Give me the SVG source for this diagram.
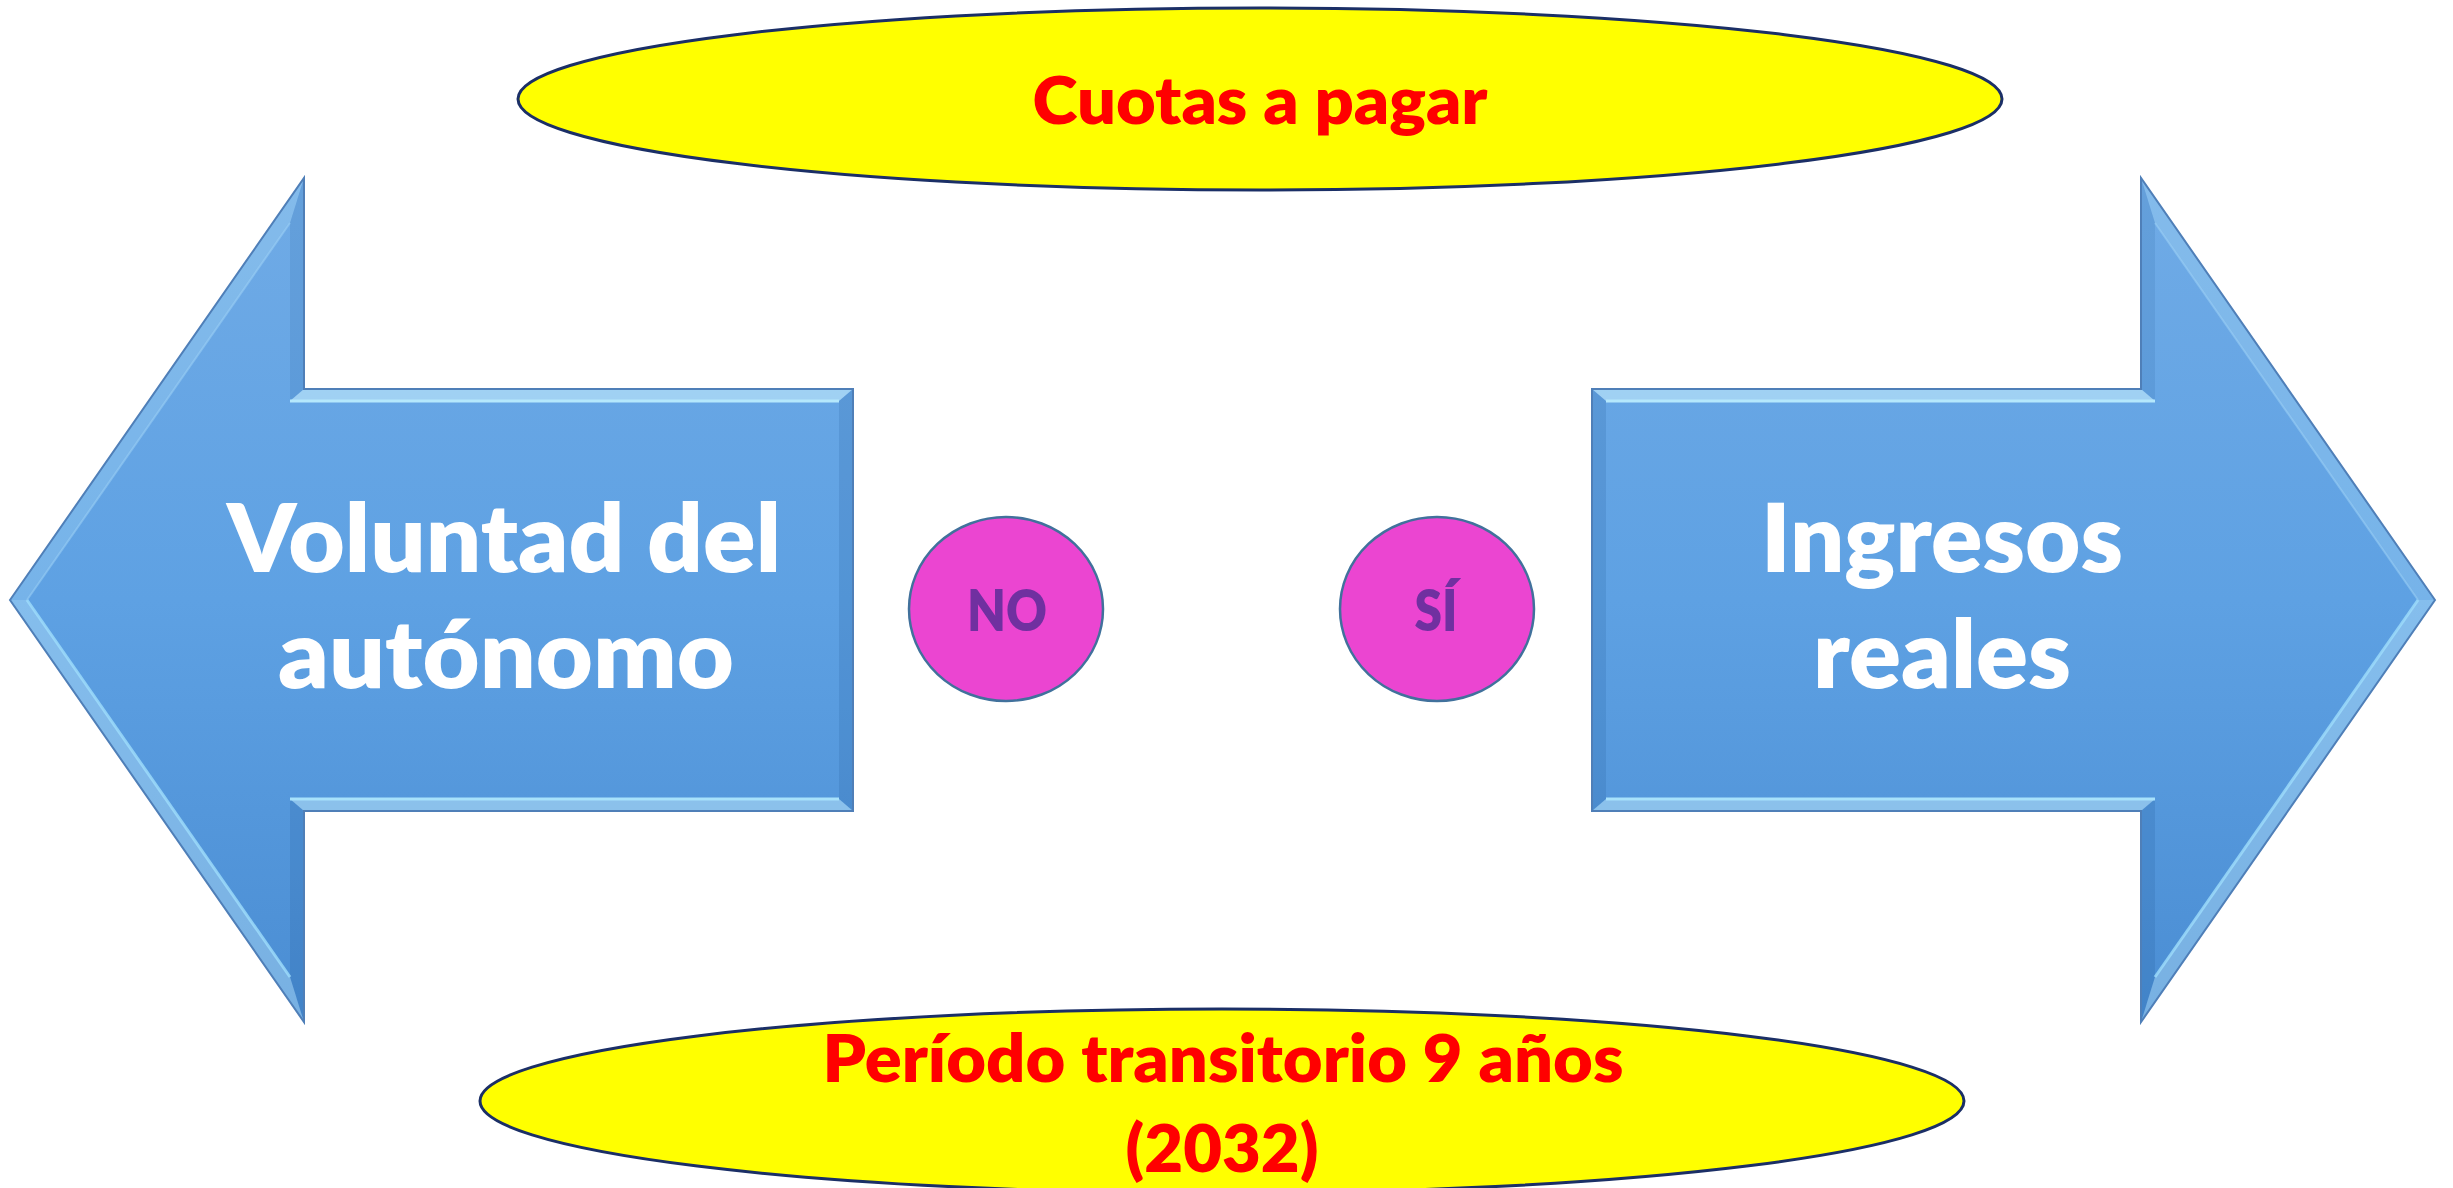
<svg xmlns="http://www.w3.org/2000/svg" xmlns:xlink="http://www.w3.org/1999/xlink" width="2453" height="1188" viewBox="0 0 2453 1188">
<style>
  .t { font-family: Lato, 'Open Sans', 'Liberation Sans', sans-serif; font-weight: 800; text-anchor: middle; }
  .big { font-size: 95px; fill: #FFFFFF; }
  .red { font-size: 66px; fill: #FF0000; }
  .pur { font-size: 57px; fill: #7030A0; }
  .oval { fill: #FFFF00; stroke: #1B2F66; stroke-width: 3; }
  .dot { fill: #EB45D1; stroke: #41719C; stroke-width: 2.5; }
  .hi { fill: #CFF4FF; }
  .lo { fill: #1A4F8F; }
</style>
<defs>
  <linearGradient id="blueFill" x1="0" y1="0" x2="0" y2="1">
    <stop offset="0" stop-color="#70ABE6"/>
    <stop offset="0.5" stop-color="#5EA1E3"/>
    <stop offset="1" stop-color="#4A8DD3"/>
  </linearGradient>
  <g id="arrowBody">
    <polygon points="10,600 304,178 304,389 853,389 853,811 304,811 304,1022" fill="url(#blueFill)"/>
    <polygon class="hi" opacity="0.22" points="10,600 304,178 290,223 27,600"/>
    <polygon class="lo" opacity="0.12" points="304,178 304,389 290,401 290,223"/>
    <polygon class="hi" opacity="0.55" points="304,389 853,389 839,401 290,401"/>
    <polygon class="lo" opacity="0.16" points="853,389 853,811 839,799 839,401"/>
    <polygon class="hi" opacity="0.45" points="853,811 304,811 290,799 839,799"/>
    <polygon class="lo" opacity="0.16" points="304,811 304,1022 290,977 290,799"/>
    <polygon class="hi" opacity="0.35" points="304,1022 10,600 27,600 290,977"/>
    <polyline points="27,600 290,223" fill="none" stroke="#9FD4F7" stroke-width="2" opacity="0.5"/>
    <polyline points="27,600 290,977" fill="none" stroke="#9FDDFB" stroke-width="3" opacity="0.8"/>
    <polyline points="290,401 839,401" fill="none" stroke="#B5E8FC" stroke-width="3"/>
    <polyline points="290,799 839,799" fill="none" stroke="#A8E2FB" stroke-width="3"/>
    <polygon points="10,600 304,178 304,389 853,389 853,811 304,811 304,1022" fill="none" stroke="#4F7FB8" stroke-width="2"/>
  </g>
</defs>

<g id="node-cuotas">
  <ellipse class="oval" cx="1260" cy="99" rx="742" ry="91"/>
  <text class="t red" x="1260" y="124" textLength="455" lengthAdjust="spacingAndGlyphs">Cuotas a pagar</text>
</g>

<g id="node-voluntad">
  <use xlink:href="#arrowBody"/>
  <text class="t big"><tspan x="504" y="572" textLength="554" lengthAdjust="spacingAndGlyphs">Voluntad del</tspan><tspan x="506" y="688" textLength="456" lengthAdjust="spacingAndGlyphs">autónomo</tspan></text>
</g>

<g id="node-ingresos">
  <use xlink:href="#arrowBody" transform="translate(2445,0) scale(-1,1)"/>
  <text class="t big"><tspan x="1942" y="572" textLength="362" lengthAdjust="spacingAndGlyphs">Ingresos</tspan><tspan x="1942" y="688" textLength="258" lengthAdjust="spacingAndGlyphs">reales</tspan></text>
</g>

<g id="node-no">
  <ellipse class="dot" cx="1006" cy="609" rx="97" ry="92"/>
  <text class="t pur" x="1007" y="631" textLength="80" lengthAdjust="spacingAndGlyphs">NO</text>
</g>

<g id="node-si">
  <ellipse class="dot" cx="1437" cy="609" rx="97" ry="92"/>
  <text class="t pur" x="1436" y="631" textLength="43" lengthAdjust="spacingAndGlyphs">SÍ</text>
</g>

<g id="node-periodo">
  <ellipse class="oval" cx="1222" cy="1101" rx="742" ry="92"/>
  <text class="t red"><tspan x="1223" y="1082" textLength="801" lengthAdjust="spacingAndGlyphs">Período transitorio 9 años</tspan><tspan x="1222" y="1172" textLength="193" lengthAdjust="spacingAndGlyphs">(2032)</tspan></text>
</g>

<g id="connectors"></g>
</svg>
